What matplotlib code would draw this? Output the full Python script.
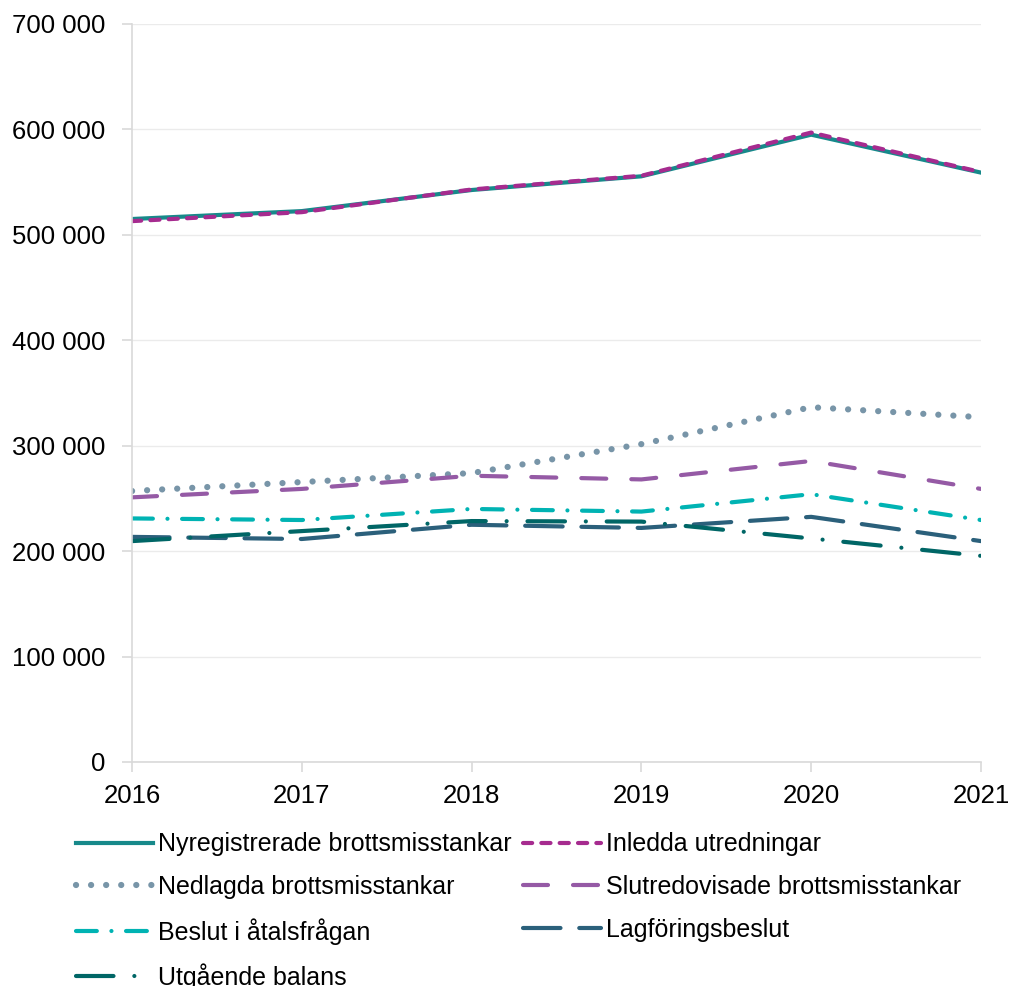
import matplotlib.pyplot as plt
from matplotlib.ticker import FuncFormatter

plt.rcParams['font.family'] = ['Liberation Sans', 'DejaVu Sans']

years = [2016, 2017, 2018, 2019, 2020, 2021]

nyregistrerade = [515000, 522500, 542500, 555500, 595000, 559000]
inledda = [513000, 521500, 543000, 556000, 597000, 559500]
nedlagda = [257000, 265500, 274000, 301500, 336500, 327000]
slutredovisade = [251000, 259000, 271500, 268000, 285500, 259000]
beslut = [231000, 229500, 240000, 237500, 254000, 229500]
lagforing = [213500, 211500, 225000, 222000, 232500, 209500]
utgaende = [209500, 219000, 228500, 228000, 212000, 195500]

labels = ['Nyregistrerade brottsmisstankar', 'Inledda utredningar',
          'Nedlagda brottsmisstankar', 'Slutredovisade brottsmisstankar',
          'Beslut i åtalsfrågan', 'Lagföringsbeslut', 'Utgående balans']

fig = plt.figure(figsize=(10.11, 9.86), dpi=100)
ax = fig.add_axes([0.1306, 0.2272, 0.8397, 0.7485])

lw = 3.0
kw = dict(lw=lw, dash_capstyle='round', solid_capstyle='round')

l1, = ax.plot(years, nyregistrerade, color='#17898a', label=labels[0], lw=lw)
l2, = ax.plot(years, inledda, color='#a62b8f', ls=(0, (2.2, 2.2)), label=labels[1], **kw)
l3, = ax.plot(years, nedlagda, color='#7895a8', ls=(0, (0.01, 2.4)), label=labels[2],
              lw=4.5, dash_capstyle='round')
l4, = ax.plot(years, slutredovisade, color='#955aa5', ls=(0, (6, 6)), label=labels[3], **kw)
l5, = ax.plot(years, beslut, color='#00b3b3', ls=(0, (5, 3.5, 0.01, 3.5)), label=labels[4], **kw)
l6, = ax.plot(years, lagforing, color='#2b607b', ls=(0, (9, 4.5)), label=labels[5], **kw)
l7, = ax.plot(years, utgaende, color='#006666', ls=(0, (9, 5, 0.01, 5)), label=labels[6], **kw)

ax.set_xlim(2016, 2021)
ax.set_ylim(0, 700000)
ax.set_yticks(range(0, 700001, 100000))
ax.set_xticks(years)
ax.yaxis.set_major_formatter(FuncFormatter(lambda v, p: f'{int(v):,}'.replace(',', ' ')))

ax.grid(axis='y', color='#ebebeb', lw=1)
ax.set_axisbelow(True)
for s in ['top', 'right']:
    ax.spines[s].set_visible(False)
for s in ['left', 'bottom']:
    ax.spines[s].set_color('#d9d9d9')
    ax.spines[s].set_linewidth(1.2)
ax.tick_params(axis='both', colors='#d9d9d9', labelcolor='black', labelsize=18.5, length=7, width=1.2)
ax.tick_params(axis='x', pad=9)
ax.tick_params(axis='y', pad=12)

handles = [l1, l3, l5, l7, l2, l4, l6]
fig.legend(handles, [h.get_label() for h in handles], ncol=2,
           loc='upper left', bbox_to_anchor=(0.065, 0.166), frameon=False,
           fontsize=18, handlelength=3.1, handletextpad=0.2,
           columnspacing=0.45, labelspacing=0.75, borderaxespad=0)

fig.savefig('out.png', dpi=100)
